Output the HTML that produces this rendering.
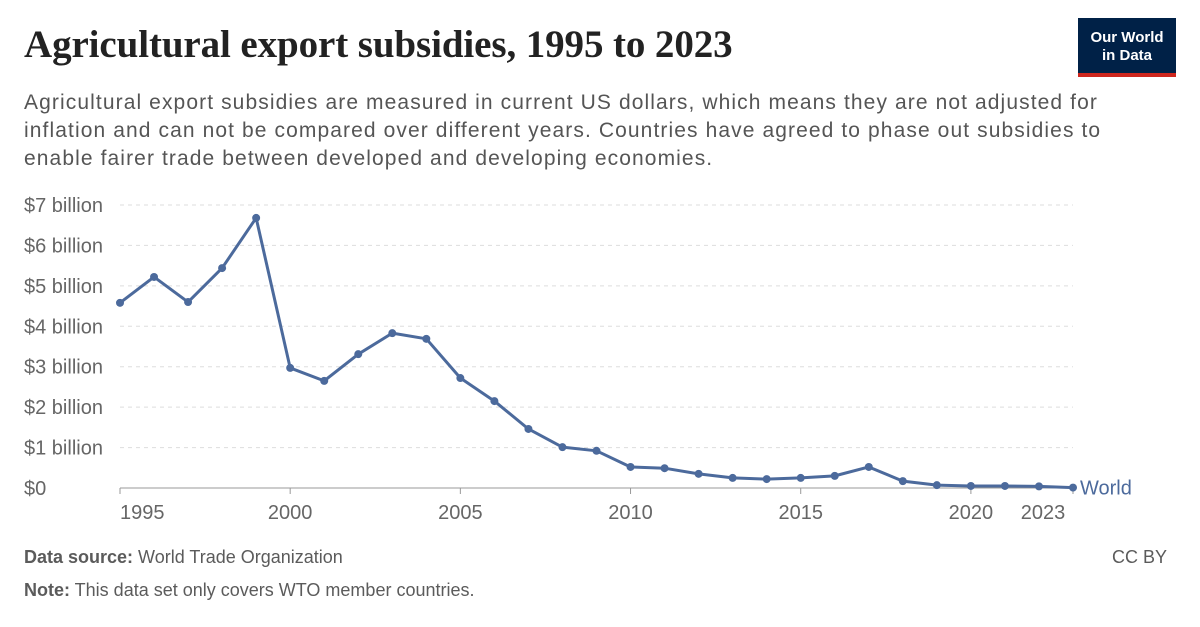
<!DOCTYPE html>
<html><head><meta charset="utf-8">
<style>
body{margin:0;width:1200px;height:627px;background:#fff;font-family:"Liberation Sans",sans-serif;position:relative;overflow:hidden}
.t{position:absolute}
#title{left:24px;top:22px;font-family:"Liberation Serif",serif;font-size:39px;font-weight:bold;color:#222;letter-spacing:-0.1px}
#sub{left:24px;top:89px;font-size:21px;color:#555;line-height:28px;width:1150px;white-space:nowrap;letter-spacing:1.1px}
#logo{left:1078px;top:18px;width:98px;height:59px;background:#002147;color:#fff;font-size:15px;font-weight:bold;line-height:18px;text-align:center;box-sizing:border-box;padding-top:11px;border-bottom:4px solid #ce261e}
.foot{font-size:18px;color:#5b5b5b}
</style></head><body>
<div class="t" id="title">Agricultural export subsidies, 1995 to 2023</div>
<div class="t" id="sub">Agricultural export subsidies are measured in current US dollars, which means they are not adjusted for<br>inflation and can not be compared over different years. Countries have agreed to phase out subsidies to<br>enable fairer trade between developed and developing economies.</div>
<div class="t" id="logo">Our World<br>in Data</div>
<svg id="chart" class="t" style="left:0;top:0" width="1200" height="627"></svg>
<div class="t foot" style="left:24px;top:547px"><b>Data source:</b> World Trade Organization</div>
<div class="t foot" style="left:24px;top:580px"><b>Note:</b> This data set only covers WTO member countries.</div>
<div class="t foot" style="left:1112px;top:547px">CC BY</div>
<script>
const years=[1995,1996,1997,1998,1999,2000,2001,2002,2003,2004,2005,2006,2007,2008,2009,2010,2011,2012,2013,2014,2015,2016,2017,2018,2019,2020,2021,2022,2023];
const values=[4.58,5.22,4.60,5.44,6.68,2.97,2.65,3.31,3.83,3.69,2.72,2.15,1.46,1.01,0.92,0.52,0.49,0.35,0.25,0.22,0.25,0.30,0.52,0.17,0.07,0.05,0.05,0.04,0.01];
const yTicks=[0,1,2,3,4,5,6,7];
const yLabels=["$0","$1 billion","$2 billion","$3 billion","$4 billion","$5 billion","$6 billion","$7 billion"];
const xTicks=[1995,2000,2005,2010,2015,2020,2023];
const NS="http://www.w3.org/2000/svg";
const svg=document.getElementById('chart');
const x=v=>120+(v-1995)*(1073-120)/28;
const y=v=>488-v*(488-205)/7;
function mk(t,a){const e=document.createElementNS(NS,t);for(const k in a)e.setAttribute(k,a[k]);svg.appendChild(e);return e;}
yTicks.forEach((v,i)=>{
 if(v>0){const g=mk('line',{x1:120,x2:1073,y1:y(v),y2:y(v),stroke:'#ddd','stroke-dasharray':'4,4'});
 
 }
 const t=mk('text',{x:24,y:y(v)+7,'font-size':20,fill:'#666','font-family':'Liberation Sans'});
 t.textContent=yLabels[i];
 
 
});
const ax=mk('line',{x1:120,x2:1073,y1:488,y2:488,stroke:'#999'});


xTicks.forEach((v,i)=>{
 const tk=mk('line',{x1:x(v),x2:x(v),y1:488,y2:494,stroke:'#999'});
 
 
 let tx=x(v),anc='middle';
 if(i===0){anc='start';tx=x(v);}
 if(i===xTicks.length-1){tx=x(v)-30;}
 const t=mk('text',{x:tx,y:519,'font-size':20,fill:'#666','text-anchor':anc,'font-family':'Liberation Sans'});
 t.textContent=v;
 
 
});
const p=mk('polyline',{points:years.map((yr,i)=>x(yr)+','+y(values[i])).join(' '),fill:'none',stroke:'#4c6a9c','stroke-width':3,'stroke-linejoin':'round'});


years.forEach((yr,i)=>{
 const c=mk('circle',{cx:x(yr),cy:y(values[i]),r:4,fill:'#4c6a9c'});
 
 
});
const l=mk('text',{x:1080,y:y(values[values.length-1])+7,'font-size':20,fill:'#4c6a9c','font-family':'Liberation Sans'});
l.textContent='World';


</script>
</body></html>
